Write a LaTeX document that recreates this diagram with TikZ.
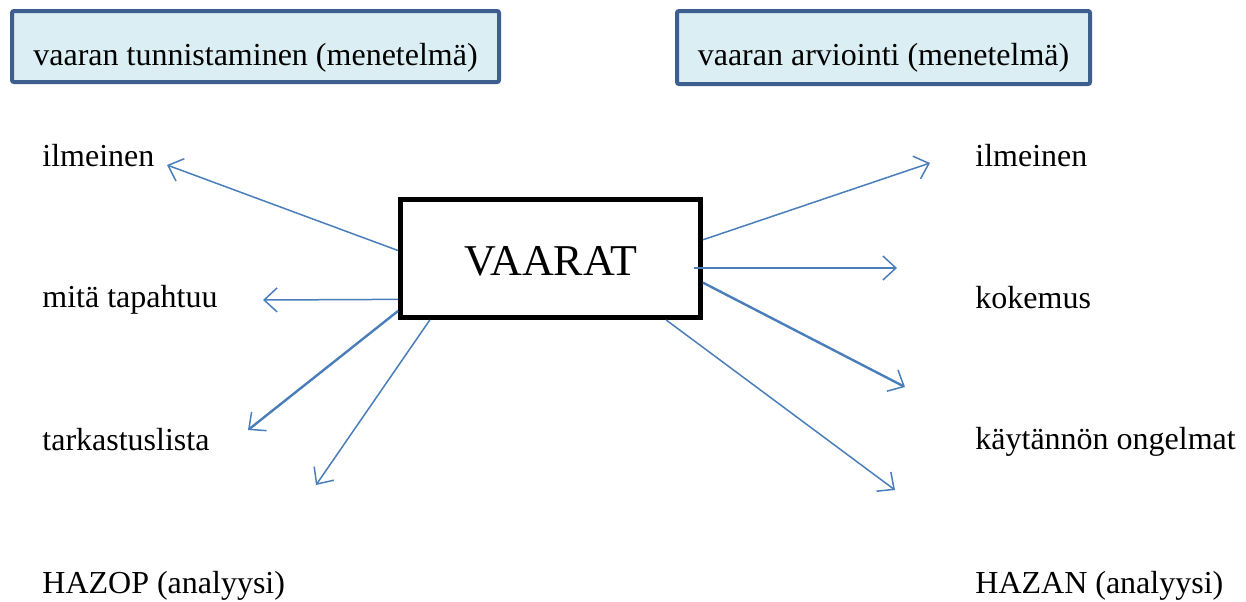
\documentclass[tikz,border=0pt]{standalone}
\usepackage{fontspec}
\setmainfont{Liberation Serif}
\usepackage{xcolor}
\usetikzlibrary{arrows.meta}
\definecolor{headblue}{HTML}{3C5F8F}
\definecolor{headfill}{HTML}{DAEEF3}
\definecolor{linkblue}{HTML}{4A7EBB}

\begin{document}
\begin{tikzpicture}[x=0.5pt,y=-0.5pt,
    head/.style={rectangle, draw=headblue, line width=2pt, fill=headfill, rounded corners=1pt, inner sep=0pt, text height=27pt, font=\fontsize{16}{19}\selectfont},
    item/.style={anchor=base west, inner sep=0pt, font=\fontsize{16}{19}\selectfont},
    hazard/.style={rectangle, draw, line width=2.5pt, inner sep=0pt, minimum width=150pt, text height=37.75pt, text depth=21.25pt, font=\fontsize{22}{26}\selectfont},
    link/.style={draw=linkblue, line width=0.75pt, -{Straight Barb[length=6.5pt,width=12pt,line width=0.75pt]}},
    biglink/.style={link, line width=1.2pt}]

    \useasboundingbox (0,0) rectangle (1246,601);

    % Method headings
    \node[head, minimum width=243.5pt, text depth=8.5pt] (ident) at (255.5,46.5) {vaaran tunnistaminen (menetelmä)};
    \node[head, minimum width=206.5pt, text depth=9.5pt] (eval) at (883.5,47.5) {vaaran arviointi (menetelmä)};

    % Central box
    \node[hazard] (vaarat) at (550.5,258.5) {VAARAT};

    % Left column
    \node[item] (lilm) at (42,166) {ilmeinen};
    \node[item] (mita) at (42,307) {mitä tapahtuu};
    \node[item] (tark) at (42,450) {tarkastuslista};
    \node[item] (hazop) at (42,593) {HAZOP (analyysi)};

    % Right column
    \node[item] (rilm) at (975,166) {ilmeinen};
    \node[item] (koke) at (975,308) {kokemus};
    \node[item] (kayt) at (975,449) {käytännön ongelmat};
    \node[item] (hazan) at (975,593) {HAZAN (analyysi)};

    % Arrow tips
    \coordinate (t1) at (167,165);
    \coordinate (t2) at (263,300);
    \coordinate (t3) at (248,430);
    \coordinate (t4) at (316,485);
    \coordinate (t5) at (930,163);
    \coordinate (t6) at (897,268);
    \coordinate (t7) at (905,387);
    \coordinate (t8) at (895,490);

    \draw[link] (vaarat.177.6) -- (t1);
    \draw[link] (vaarat.195.2) -- (t2);
    \draw[biglink] (vaarat.199.7) -- (t3);
    \draw[link] (vaarat.207.4) -- (t4);
    \draw[link] (vaarat.7.9) -- (t5);
    \draw[link] ([xshift=-4.5pt,yshift=-4.75pt]vaarat.east) -- (t6);
    \draw[biglink] (vaarat.-9.9) -- (t7);
    \draw[link] (vaarat.-28.7) -- (t8);
\end{tikzpicture}
\end{document}
